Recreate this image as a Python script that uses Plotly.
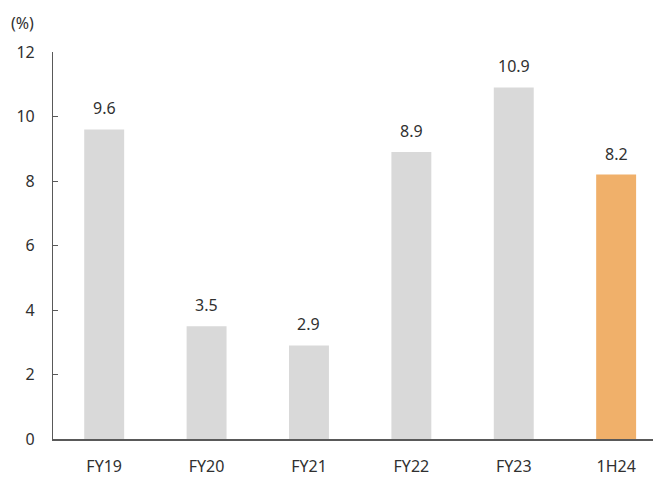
import plotly.graph_objects as go

categories = ["FY19", "FY20", "FY21", "FY22", "FY23", "1H24"]
values = [9.6, 3.5, 2.9, 8.9, 10.9, 8.2]
labels = ["9.6", "3.5", "2.9", "8.9", "10.9", "8.2"]
colors = ["#D9D9D9", "#D9D9D9", "#D9D9D9", "#D9D9D9", "#D9D9D9", "#F0B06A"]
y_ticks = [0, 2, 4, 6, 8, 10, 12]

font_family = "Noto Sans, Open Sans, sans-serif"
text_color = "#303030"

fig = go.Figure()
fig.add_trace(go.Bar(
    x=list(range(len(categories))),
    y=values,
    marker=dict(color=colors, line=dict(width=0)),
    width=0.39,
    hoverinfo="skip",
))

for i, (v, t) in enumerate(zip(values, labels)):
    fig.add_annotation(x=i, y=v, text=t, showarrow=False, yanchor="bottom",
                       yshift=8, font=dict(size=16, color=text_color, family=font_family))

fig.add_annotation(xref="paper", yref="paper", x=-44/600, y=1 + 29/391,
                   xanchor="left", yanchor="middle", text="(%)", showarrow=False,
                   font=dict(size=16, color=text_color, family=font_family))

fig.update_layout(
    width=653, height=477,
    margin=dict(l=53, r=0, t=52, b=34),
    paper_bgcolor="white", plot_bgcolor="white",
    showlegend=False,
    font=dict(family=font_family, size=16, color=text_color),
    xaxis=dict(
        range=[-0.5, 5.36],
        tickmode="array",
        tickvals=list(range(len(categories))),
        ticktext=categories,
        showgrid=False, zeroline=False,
        showline=True, linecolor="#595959", linewidth=1.5,
        ticks="", ticklabelstandoff=12,
        tickfont=dict(size=16, color=text_color),
    ),
    yaxis=dict(
        range=[0, 12],
        tickmode="array",
        tickvals=y_ticks,
        ticktext=[str(t) for t in y_ticks],
        showgrid=False, zeroline=False,
        showline=True, linecolor="#595959", linewidth=1.2,
        ticks="inside", ticklen=5, tickcolor="#595959", tickwidth=1,
        ticklabelstandoff=14,
        tickfont=dict(size=16, color=text_color),
    ),
)

fig.write_html("out.html")
